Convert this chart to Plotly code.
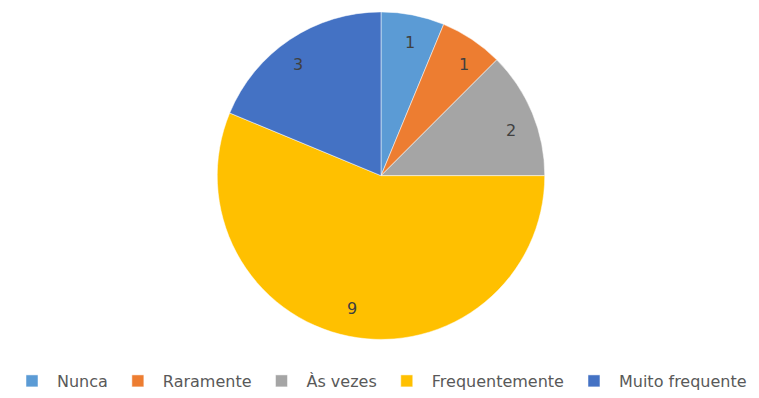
import numpy as np
import plotly.graph_objects as go

categories = ["Nunca", "Raramente", "Às vezes", "Frequentemente", "Muito frequente"]
values = [1, 1, 2, 9, 3]
colors = ["#5B9BD5", "#ED7D31", "#A5A5A5", "#FFC000", "#4472C4"]

W, H = 759, 398
cx, cy, r = 381, 177, 165  # pixel center and radius

fig = go.Figure(go.Pie(
    labels=categories, values=values, sort=False, direction="clockwise",
    rotation=0, marker=dict(colors=colors, line=dict(color="white", width=0.5)),
    textinfo="none", hoverinfo="label+value",
    domain=dict(x=[(cx - r) / W, (cx + r) / W], y=[1 - (cy + r) / H, 1 - (cy - r) / H]),
))

# value labels placed along each slice's mid-angle, near the rim
total = sum(values)
cum = 0
ann = []
for v in values:
    mid = (cum + v / 2) / total * 2 * np.pi
    cum += v
    px = cx + 0.9 * r * np.sin(mid)
    py = cy - 0.9 * r * np.cos(mid)
    ann.append(dict(x=px / W, y=1 - py / H, xref="paper", yref="paper", text=str(v),
                    showarrow=False, font=dict(size=16, color="#404040", family="DejaVu Sans")))

fig.update_layout(
    width=W, height=H, margin=dict(l=0, r=0, t=0, b=0),
    paper_bgcolor="white", plot_bgcolor="white",
    annotations=ann,
    legend=dict(orientation="h", x=0.5, xanchor="center", y=1 - 384 / H, yanchor="middle",
                font=dict(size=16, color="#595959", family="DejaVu Sans"),
                itemwidth=40, tracegroupgap=0),
    showlegend=True,
)
fig.write_html("out.html")
